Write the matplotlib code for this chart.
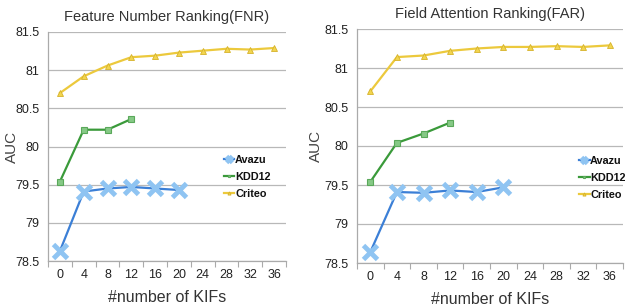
import matplotlib
matplotlib.use("Agg")
import matplotlib.pyplot as plt
import numpy as np

plt.rcParams['font.family'] = ['Liberation Sans', 'DejaVu Sans']

kifs = [0, 4, 8, 12, 16, 20, 24, 28, 32, 36]

fnr_avazu = [78.63, 79.41, 79.45, 79.47, 79.45, 79.43]
fnr_kdd12 = [79.54, 80.22, 80.22, 80.36]
fnr_criteo = [80.70, 80.92, 81.06, 81.17, 81.19, 81.23, 81.255, 81.28, 81.27, 81.29]

far_avazu = [78.64, 79.41, 79.40, 79.43, 79.41, 79.47]
far_kdd12 = [79.54, 80.04, 80.16, 80.30]
far_criteo = [80.70, 81.14, 81.16, 81.22, 81.25, 81.27, 81.27, 81.28, 81.27, 81.29]

titles = ["Feature Number Ranking(FNR)", "Field Attention Ranking(FAR)"]
yticks = [78.5, 79, 79.5, 80, 80.5, 81, 81.5]
ytick_labels = ["78.5", "79", "79.5", "80", "80.5", "81", "81.5"]

fig = plt.figure(figsize=(6.25, 3.06), dpi=100)
axes_rects = [
    [48/625, 1-261/306, 238/625, 229/306],
    [357/625, 1-263/306, 266/625, 234/306],
]
ylabel_x = [-0.122, -0.128]
legend_anchor = [(215/625, 1-146/306), (570/625, 1-147/306)]

data = [(fnr_avazu, fnr_kdd12, fnr_criteo), (far_avazu, far_kdd12, far_criteo)]

for i in range(2):
    ax = fig.add_axes(axes_rects[i])
    av, kd, cr = data[i]
    x = np.arange(len(kifs))
    l1, = ax.plot(x[:len(av)], av, color='#3b7fd6', lw=1.6, marker='x', ms=10,
                  mew=3.5, mec='#8fc4f2', label='Avazu', zorder=4)
    l2, = ax.plot(x[:len(kd)], kd, color='#3a9a3a', lw=1.6, marker='s', ms=4.5,
                  mfc='#86c986', mec='#5aa85a', mew=0.8, label='KDD12', zorder=3)
    l3, = ax.plot(x[:len(cr)], cr, color='#ecc93c', lw=1.6, marker='^', ms=5,
                  mfc='#f2d54e', mec='#d6b22a', mew=0.6, label='Criteo', zorder=3)
    ax.set_xlim(-0.5, len(kifs) - 0.5)
    ax.set_ylim(78.5, 81.5)
    ax.set_xticks(x)
    ax.set_xticklabels([str(k) for k in kifs])
    ax.set_xticks(np.arange(-0.5, len(kifs)), minor=True)
    ax.tick_params(axis='x', which='major', length=0, pad=6, labelsize=9, colors='#222222')
    ax.tick_params(axis='x', which='minor', length=4, color='#aaaaaa', width=0.8)
    ax.set_yticks(yticks)
    ax.set_yticklabels(ytick_labels)
    ax.tick_params(axis='y', length=0, pad=6, labelsize=9, colors='#222222')
    ax.grid(axis='y', color='#b8b8b8', lw=0.9)
    ax.set_axisbelow(True)
    for s in ['top', 'right']:
        ax.spines[s].set_visible(False)
    for s in ['left', 'bottom']:
        ax.spines[s].set_color('#aaaaaa')
        ax.spines[s].set_linewidth(0.9)
    ax.set_title(titles[i], fontsize=10.5, color='#333333', pad=8)
    ax.set_ylabel("AUC", fontsize=11, color='#444444')
    ax.yaxis.set_label_coords(ylabel_x[i], 0.5)
    ax.set_xlabel("#number of KIFs", fontsize=11.5, color='#333333', labelpad=6)
    leg = fig.legend(handles=[l1, l2, l3], loc='upper left', bbox_to_anchor=legend_anchor[i],
                     frameon=False, handlelength=1.0, handletextpad=0.05,
                     labelspacing=0.65, markerscale=0.45, borderpad=0.3,
                     prop={'weight': 'bold', 'size': 7.8})
    for t in leg.get_texts():
        t.set_color('#111111')

fig.savefig("out.png", dpi=100)
